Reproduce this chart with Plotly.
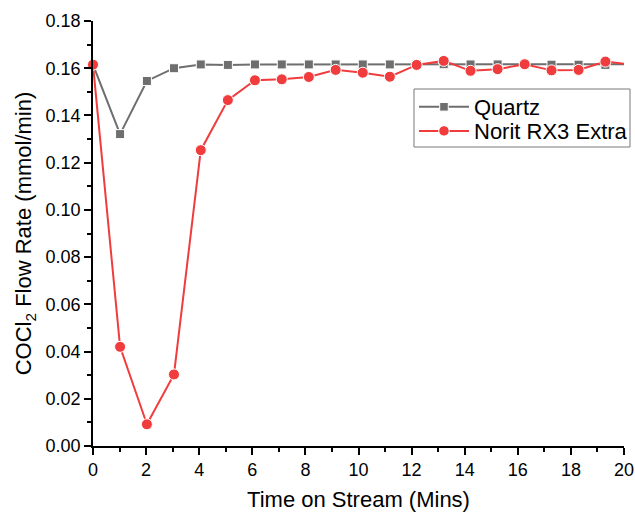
import plotly.graph_objects as go

time_min = [0, 1.02, 2.03, 3.05, 4.06, 5.08, 6.10, 7.11, 8.13, 9.14, 10.16,
            11.18, 12.19, 13.21, 14.22, 15.24, 16.26, 17.27, 18.29, 19.30, 20.32]
quartz = [0.1615, 0.1321, 0.1546, 0.1600, 0.1616, 0.1614, 0.1616, 0.1616, 0.1616, 0.1616, 0.1616,
          0.1616, 0.1616, 0.1617, 0.1616, 0.1616, 0.1616, 0.1615, 0.1615, 0.1614, 0.1617]
norit = [0.1615, 0.0420, 0.0092, 0.0303, 0.1253, 0.1465, 0.1549, 0.1553, 0.1563, 0.1593, 0.1581,
         0.1564, 0.1614, 0.1631, 0.1589, 0.1596, 0.1617, 0.1591, 0.1593, 0.1628, 0.1615]

x_ticks = [0, 2, 4, 6, 8, 10, 12, 14, 16, 18, 20]
y_ticks = [0.00, 0.02, 0.04, 0.06, 0.08, 0.10, 0.12, 0.14, 0.16, 0.18]

GRAY = "rgb(110,110,110)"
RED = "rgb(240,60,60)"
FONT = "Liberation Sans, Arial, sans-serif"

n = len(time_min)
sizes_sq = [9] * (n - 1) + [0]
sizes_ci = [11] * (n - 1) + [0]

fig = go.Figure()
fig.add_trace(go.Scatter(
    x=time_min, y=quartz, name="Quartz", mode="lines+markers",
    line=dict(color=GRAY, width=2),
    marker=dict(symbol="square", size=sizes_sq, color=GRAY, opacity=1),
    cliponaxis=False, legend="legend", showlegend=True,
))
fig.add_trace(go.Scatter(
    x=time_min, y=norit, name="Norit RX3 Extra", mode="lines+markers",
    line=dict(color=RED, width=2),
    marker=dict(symbol="circle", size=sizes_ci, color=RED, opacity=1),
    cliponaxis=False, legend="legend2", showlegend=True,
))

axis_common = dict(
    showline=True, linecolor="black", linewidth=1.5, mirror=False,
    ticks="outside", ticklen=7, tickwidth=1.5, tickcolor="black",
    showgrid=False, zeroline=False, automargin=False,
    tickfont=dict(family=FONT, size=18, color="black"),
)

fig.update_xaxes(
    range=[0, 20], tickvals=x_ticks, ticktext=[str(v) for v in x_ticks],
    title=dict(text="Time on Stream (Mins)", font=dict(family=FONT, size=22, color="black"), standoff=21),
    minor=dict(ticks="outside", dtick=1, ticklen=4, tickwidth=1.5, tickcolor="black"),
    **axis_common,
)
fig.update_yaxes(
    range=[0, 0.18], tickvals=y_ticks, ticktext=[f"{v:.2f}" for v in y_ticks],
    title=dict(text="COCl<sub>2</sub> Flow Rate (mmol/min)", font=dict(family=FONT, size=22, color="black"), standoff=8),
    minor=dict(ticks="outside", dtick=0.01, ticklen=4, tickwidth=1.5, tickcolor="black"),
    **axis_common,
)

leg_common = dict(
    xanchor="left", yanchor="middle",
    bgcolor="rgba(0,0,0,0)", borderwidth=0,
    font=dict(family=FONT, size=22, color="black"),
    itemwidth=50,
)

fig.update_layout(
    width=635, height=512, autosize=False,
    margin=dict(l=93, r=11, t=21, b=66, autoexpand=False),
    paper_bgcolor="white", plot_bgcolor="white",
    font=dict(family=FONT, color="black"),
    showlegend=True,
    legend=dict(x=0.6045, y=0.7976, **leg_common),
    legend2=dict(x=0.6045, y=0.741, **leg_common),
    shapes=[dict(
        type="rect", xref="paper", yref="paper",
        x0=0.6045, x1=1.0113, y0=0.7035, y1=0.84,
        line=dict(color="rgb(120,120,120)", width=1),
        fillcolor="white", layer="above",
    )],
)

fig.write_html(
    "out.html",
    config={"responsive": False, "displayModeBar": False},
    post_script="document.body.style.margin='0';document.body.style.overflow='hidden';",
)
